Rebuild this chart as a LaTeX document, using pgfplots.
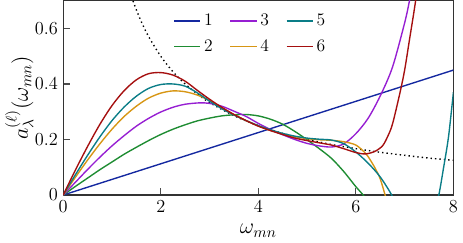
\documentclass[border=0pt]{standalone}
\usepackage{pgfplots}
\pgfplotsset{compat=1.18}
\definecolor{c1}{RGB}{20,40,160}
\definecolor{c2}{RGB}{30,140,50}
\definecolor{c3}{RGB}{150,30,210}
\definecolor{c4}{RGB}{215,150,20}
\definecolor{c5}{RGB}{10,125,135}
\definecolor{c6}{RGB}{165,15,15}
\begin{document}
\begin{tikzpicture}
\begin{axis}[
  scale only axis,
  width=255pt, height=127pt,
  xmin=0, xmax=8, ymin=0, ymax=0.7,
  xtick={0,2,4,6,8}, ytick={0,0.2,0.4,0.6},
  xtick pos=bottom, ytick pos=left, tick align=inside,
  axis line style={draw=black!80, line width=0.9pt},
  major tick style={black!70, line width=0.8pt},
  tick label style={font=\fontsize{11.5}{13}\selectfont},
  xlabel={$\omega_{mn}$}, ylabel={$a_\lambda^{(\ell)}(\omega_{mn})$},
  label style={font=\fontsize{14}{16}\selectfont},
  xlabel style={yshift=-1pt}, ylabel style={yshift=-6pt},
  legend columns=3,
  legend style={at={(0.27,0.965)}, anchor=north west, draw=none, fill=none,
    font=\fontsize{11.5}{13}\selectfont,
    /tikz/every even column/.append style={column sep=9pt}, row sep=3.4pt},
  every axis plot/.append style={line width=0.9pt},
]
\addlegendimage{c1, line width=1pt}\addlegendentry{1}
\addlegendimage{c3, line width=1pt}\addlegendentry{3}
\addlegendimage{c5, line width=1pt}\addlegendentry{5}
\addlegendimage{c2, line width=1pt}\addlegendentry{2}
\addlegendimage{c4, line width=1pt}\addlegendentry{4}
\addlegendimage{c6, line width=1pt}\addlegendentry{6}
\addplot[black, dotted, smooth, forget plot] coordinates {
(1.4,0.714) (1.5,0.667) (1.6,0.625) (1.75,0.571) (2,0.5) (2.25,0.444) (2.5,0.4) (2.75,0.364) (3,0.333) (3.5,0.286) (4,0.25) (4.5,0.222) (5,0.2) (5.5,0.182) (6,0.167) (6.5,0.154) (7,0.143) (7.5,0.133) (8,0.125)};
\addplot[c1, forget plot] coordinates {(0,0) (8,0.45)};
\addplot[c2, smooth, forget plot] coordinates {
(0,0) (0.25,0.031) (0.5,0.061) (0.75,0.091) (1,0.119) (1.25,0.147) (1.5,0.172) (1.75,0.196) (2,0.218) (2.25,0.237) (2.5,0.253) (2.75,0.267) (3,0.277) (3.25,0.285) (3.5,0.289) (3.75,0.29) (4,0.285) (4.25,0.273) (4.5,0.255) (4.75,0.229) (5,0.199) (5.25,0.167) (5.5,0.132) (5.75,0.085) (6,0.03) (6.15,0.0) (6.3,-0.04)};
\addplot[c3, smooth, forget plot] coordinates {
(0,0) (0.25,0.046) (0.5,0.092) (0.75,0.136) (1,0.177) (1.25,0.214) (1.5,0.248) (1.75,0.276) (2,0.299) (2.25,0.316) (2.5,0.327) (2.8,0.332) (3,0.330) (3.25,0.32) (3.5,0.302) (3.75,0.283) (4,0.258) (4.25,0.236) (4.5,0.217) (4.75,0.2) (5,0.186) (5.25,0.177) (5.5,0.173) (5.75,0.184) (6,0.221) (6.25,0.276) (6.5,0.357) (6.75,0.46) (7,0.62) (7.1,0.70) (7.2,0.79)};
\addplot[c4, smooth, forget plot] coordinates {
(0,0) (0.25,0.064) (0.5,0.126) (0.75,0.184) (1,0.237) (1.25,0.283) (1.5,0.320) (1.75,0.349) (2,0.367) (2.25,0.375) (2.5,0.372) (2.75,0.360) (3,0.340) (3.25,0.315) (3.5,0.290) (3.75,0.268) (4,0.249) (4.25,0.233) (4.5,0.22) (4.75,0.21) (5,0.203) (5.25,0.199) (5.5,0.197) (5.75,0.192) (6,0.18) (6.2,0.15) (6.3,0.125) (6.4,0.095) (6.5,0.058) (6.6,0.0) (6.7,-0.06)};
\addplot[c5, smooth, forget plot] coordinates {
(0,0) (0.25,0.073) (0.5,0.143) (0.75,0.209) (1,0.268) (1.25,0.317) (1.5,0.356) (1.75,0.384) (2,0.398) (2.25,0.400) (2.5,0.392) (2.75,0.368) (3,0.338) (3.25,0.311) (3.5,0.288) (3.75,0.268) (4,0.25) (4.25,0.235) (4.5,0.222) (4.75,0.212) (5,0.205) (5.25,0.201) (5.5,0.198) (5.75,0.185) (6,0.155) (6.25,0.115) (6.5,0.065) (6.75,-0.005) (6.9,-0.07) (7.1,-0.15) (7.3,-0.16) (7.5,-0.1) (7.6,-0.05) (7.7,0.0) (7.8,0.10) (7.9,0.21) (8,0.37)};
\addplot[c6, smooth, forget plot] coordinates {
(0,0) (0.25,0.090) (0.5,0.175) (0.75,0.254) (1,0.322) (1.25,0.376) (1.5,0.415) (1.75,0.437) (2,0.441) (2.25,0.432) (2.5,0.410) (2.75,0.377) (3,0.345) (3.25,0.316) (3.5,0.290) (3.75,0.268) (4,0.248) (4.25,0.232) (4.5,0.218) (4.75,0.205) (5,0.196) (5.25,0.188) (5.5,0.180) (5.75,0.167) (6,0.153) (6.2,0.148) (6.4,0.158) (6.55,0.178) (6.65,0.21) (6.75,0.255) (6.9,0.365) (7,0.45) (7.1,0.56) (7.2,0.67) (7.3,0.79)};
\end{axis}
\end{tikzpicture}
\end{document}
